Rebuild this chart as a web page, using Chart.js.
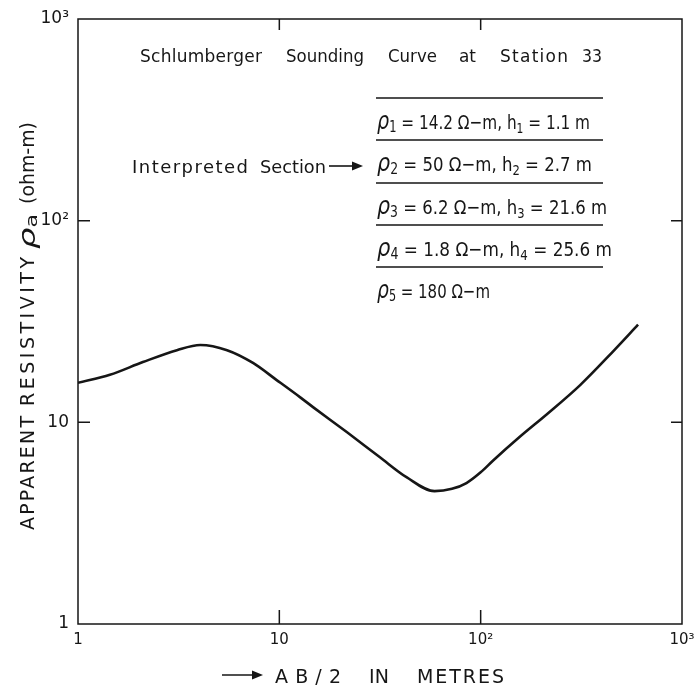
<!DOCTYPE html>
<html>
<head>
<meta charset="utf-8">
<script src="https://cdn.jsdelivr.net/npm/chart.js@4.4.1/dist/chart.umd.min.js"></script>
<style>
  body { margin: 0; background: #fff; }
  canvas { display: block; }
</style>
</head>
<body>
<canvas id="sounding-curve" width="694" height="690"></canvas>
<script>
// sounding curve (AB/2 in metres, apparent resistivity in ohm-m)
var abHalf = [1, 1.44, 2.1, 3.1, 4.05, 5.5, 7.4, 9.7, 12.7, 14.7, 21.7, 31.6, 43, 59, 72, 85, 100, 115, 157, 214, 312, 455, 605];
var rhoApparent = [15.7, 17.2, 19.9, 22.8, 24.2, 22.8, 19.7, 16.2, 13.3, 11.9, 8.93, 6.71, 5.33, 4.56, 4.68, 5.0, 5.65, 6.45, 8.5, 11.0, 15.3, 22.5, 30.5];

// decade ticks on both axes
var tickValues = [1, 10, 100, 1000];
var tickLabels = ['1', '10', '10\u00B2', '10\u00B3'];
var innerTickValues = [10, 100];

// interpreted section (resistivity in ohm-m, thickness in m)
var layerRho = [14.2, 50, 6.2, 1.8, 180];
var layerThickness = [1.1, 2.7, 21.6, 25.6, null];

var FONT = "'DejaVu Sans', sans-serif";
var INK = '#161616';

var sounding = {
    ui: {
        canvas: document.getElementById('sounding-curve')
    },
    tickLabel: function (value) {
        var idx = tickValues.indexOf(value);
        return idx >= 0 ? tickLabels[idx] : '';
    },
    font: function (seg) {
        return (seg.italic ? 'italic ' : '') + seg.size + 'px ' + FONT;
    },
    layerSegments: function (i) {
        var n = String(i + 1);
        var segs = [
            { t: '\u03C1', size: 25, italic: true },
            { t: n, size: 15, dy: 3 },
            { t: ' = ' + layerRho[i] + ' \u03A9\u2212m', size: 20 }
        ];
        if (layerThickness[i] != null) {
            segs.push({ t: ', h', size: 20 });
            segs.push({ t: n, size: 14, dy: 4 });
            segs.push({ t: ' = ' + layerThickness[i] + ' m', size: 20 });
        }
        return segs;
    },
    // mixed-size run squeezed or stretched horizontally to a span
    drawRun: function (ctx, segs, x0, x1, y) {
        var widths = segs.map(function (s) {
            ctx.font = sounding.font(s);
            return ctx.measureText(s.t).width;
        });
        var total = widths.reduce(function (p, c) { return p + c; }, 0);
        var sx = (x1 - x0) / total;
        ctx.save();
        ctx.translate(x0, y);
        ctx.scale(sx, 1);
        var x = 0;
        segs.forEach(function (s, i) {
            ctx.font = sounding.font(s);
            ctx.fillText(s.t, x, s.dy || 0);
            x += widths[i];
        });
        ctx.restore();
    },
    drawArrow: function (ctx, x1, x2, y) {
        ctx.beginPath();
        ctx.moveTo(x1, y);
        ctx.lineTo(x2 - 6, y);
        ctx.stroke();
        ctx.beginPath();
        ctx.moveTo(x2, y);
        ctx.lineTo(x2 - 11, y - 4.5);
        ctx.lineTo(x2 - 11, y + 4.5);
        ctx.closePath();
        ctx.fill();
    },
    // stencil lettering: spread a word over its span, or squeeze it if too long
    fitWord: function (ctx, text, x0, x1, y) {
        ctx.letterSpacing = '0px';
        var target = x1 - x0;
        var w = ctx.measureText(text).width;
        var n = text.length;
        if (w > target || n < 2) {
            ctx.fillText(text, x0, y, target);
            return;
        }
        ctx.letterSpacing = ((target - w) / (n - 1)) + 'px';
        ctx.fillText(text, x0, y);
        ctx.letterSpacing = '0px';
    },
    drawWords: function (ctx, words, spans, y) {
        words.forEach(function (w, i) {
            sounding.fitWord(ctx, w, spans[i][0], spans[i][1], y);
        });
    },
    // frame, inward ticks and the annotation text
    framePlugin: {
        id: 'frame',
        afterDraw: function (chart) {
            var ctx = chart.ctx;
            var a = chart.chartArea;
            var xs = chart.scales.x;
            var ys = chart.scales.y;
            ctx.save();
            ctx.strokeStyle = INK;
            ctx.fillStyle = INK;
            ctx.lineWidth = 1.5;
            ctx.strokeRect(a.left, a.top, a.right - a.left, a.bottom - a.top);

            ctx.beginPath();
            innerTickValues.forEach(function (v) {
                var px = xs.getPixelForValue(v);
                var py = ys.getPixelForValue(v);
                ctx.moveTo(px, a.bottom); ctx.lineTo(px, a.bottom - 14);
                ctx.moveTo(px, a.top); ctx.lineTo(px, a.top + 11);
                ctx.moveTo(a.left, py); ctx.lineTo(a.left + 12, py);
                ctx.moveTo(a.right, py); ctx.lineTo(a.right - 11, py);
            });
            ctx.stroke();

            ctx.textAlign = 'left';
            ctx.textBaseline = 'alphabetic';

            // heading
            ctx.font = '17px ' + FONT;
            sounding.drawWords(ctx, ['Schlumberger', 'Sounding', 'Curve', 'at', 'Station', '33'],
                [[140, 262], [286, 364], [388, 437], [459, 476], [500, 568], [582, 602]], 62);

            // interpreted section label
            ctx.font = '18px ' + FONT;
            sounding.drawWords(ctx, ['Interpreted', 'Section'], [[132, 248], [260, 326]], 173);
            ctx.lineWidth = 1.6;
            sounding.drawArrow(ctx, 329, 363, 166);

            // table rules
            ctx.lineWidth = 1.5;
            ctx.beginPath();
            [98, 140, 183, 225, 267].forEach(function (y) {
                ctx.moveTo(376, y); ctx.lineTo(603, y);
            });
            ctx.stroke();

            var rowEnds = [590, 592, 607, 612, 490];
            [129, 171, 214, 256, 298].forEach(function (y, i) {
                sounding.drawRun(ctx, sounding.layerSegments(i), 377, rowEnds[i], y);
            });

            // x axis title
            ctx.font = '19px ' + FONT;
            sounding.drawWords(ctx, ['AB/2', 'IN', 'METRES'], [[275, 341], [369, 389], [417, 504]], 683);
            ctx.lineWidth = 1.6;
            sounding.drawArrow(ctx, 222, 263, 675);

            // y axis title, rotated
            ctx.save();
            ctx.translate(29, 0);
            ctx.rotate(-Math.PI / 2);
            ctx.textBaseline = 'middle';
            ctx.font = '19px ' + FONT;
            sounding.drawWords(ctx, ['APPARENT', 'RESISTIVITY', '(ohm-m)'],
                [[-530, -416], [-406, -257], [-204, -122]], 0);
            sounding.drawRun(ctx, [
                { t: '\u03C1', size: 23, italic: true },
                { t: 'a', size: 15, dy: 4 }
            ], -249, -214, 0);
            ctx.restore();
            ctx.restore();
        }
    },
    init: function () {
        var points = abHalf.map(function (x, i) {
            return { x: x, y: rhoApparent[i] };
        });
        var ctx = sounding.ui.canvas.getContext('2d');

        var chart = new Chart(ctx, {
            type: 'line',
            data: {
                datasets: [{
                    label: 'Apparent resistivity',
                    data: points,
                    borderColor: INK,
                    borderWidth: 2.6,
                    pointRadius: 0,
                    fill: false,
                    cubicInterpolationMode: 'monotone'
                }]
            },
            options: {
                responsive: false,
                animation: false,
                layout: { padding: { top: 19, right: 12, left: 0, bottom: 0 } },
                plugins: {
                    legend: { display: false },
                    tooltip: { enabled: false }
                },
                scales: {
                    x: {
                        type: 'logarithmic',
                        min: 1,
                        max: 1000,
                        afterBuildTicks: function (scale) {
                            scale.ticks = tickValues.map(function (v) { return { value: v }; });
                        },
                        afterFit: function (scale) {
                            scale.height = 66;
                            scale.paddingLeft = 0;
                            scale.paddingRight = 0;
                        },
                        ticks: {
                            callback: function (v) { return sounding.tickLabel(v); },
                            font: { family: FONT, size: 15 },
                            color: INK,
                            maxRotation: 0,
                            autoSkip: false,
                            padding: 7
                        },
                        grid: { display: false, drawTicks: false },
                        border: { display: false }
                    },
                    y: {
                        type: 'logarithmic',
                        min: 1,
                        max: 1000,
                        afterBuildTicks: function (scale) {
                            scale.ticks = tickValues.map(function (v) { return { value: v }; });
                        },
                        afterFit: function (scale) {
                            scale.width = 78;
                            scale.paddingTop = 0;
                            scale.paddingBottom = 0;
                        },
                        ticks: {
                            callback: function (v) { return sounding.tickLabel(v); },
                            font: { family: FONT, size: 17 },
                            color: INK,
                            autoSkip: false,
                            padding: 9
                        },
                        grid: { display: false, drawTicks: false },
                        border: { display: false }
                    }
                }
            },
            plugins: [sounding.framePlugin]
        });
        return chart;
    }
};

sounding.init();
</script>
</body>
</html>
